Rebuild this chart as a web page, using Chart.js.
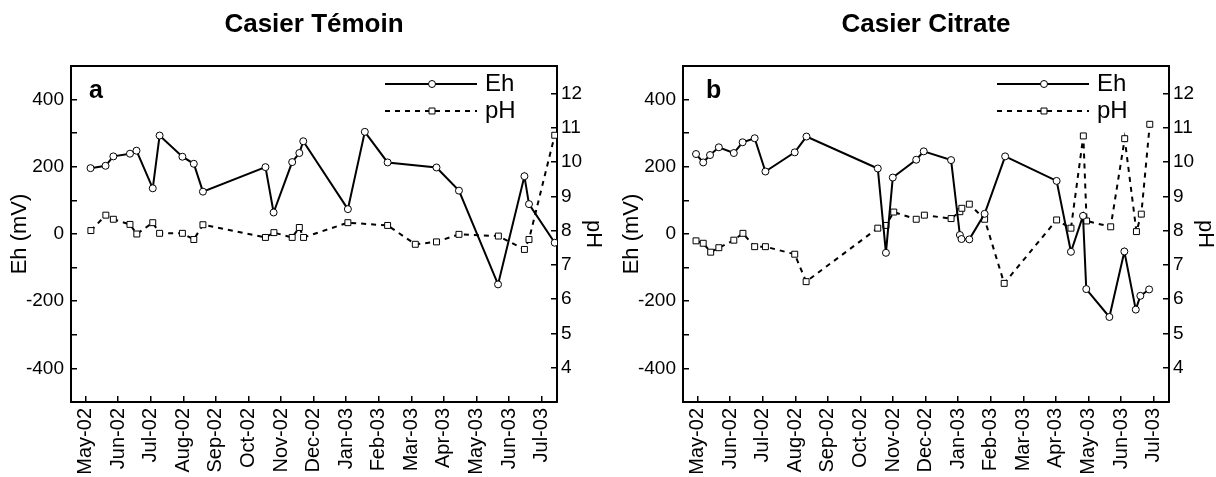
<!DOCTYPE html>
<html>
<head>
<meta charset="utf-8">
<script src="https://cdn.jsdelivr.net/npm/chart.js@4/dist/chart.umd.min.js"></script>
<style>
  html, body { margin: 0; padding: 0; background: #fff; overflow: hidden; }
  .panel { position: absolute; top: 0; width: 608px; height: 477px; }
</style>
</head>
<body>
<div class="panel" style="left:0"><canvas id="chartTemoin" width="608" height="477"></canvas></div>
<div class="panel" style="left:612px"><canvas id="chartCitrate" width="608" height="477"></canvas></div>
<script>
// month ticks, x = months since May-02
const months = ['May-02', 'Jun-02', 'Jul-02', 'Aug-02', 'Sep-02', 'Oct-02', 'Nov-02', 'Dec-02',
  'Jan-03', 'Feb-03', 'Mar-03', 'Apr-03', 'May-03', 'Jun-03', 'Jul-03'];

// Casier Témoin
const temoinEhX = [0.15, 0.61, 0.85, 1.36, 1.56, 2.06, 2.27, 2.97, 3.32, 3.6, 5.52, 5.77, 6.34, 6.56, 6.68,
  8.05, 8.57, 9.27, 10.77, 11.46, 12.66, 13.47, 13.61, 14.4];
const temoinEh = [196, 203, 231, 239, 248, 136, 293, 230, 209, 126, 199, 64, 214, 241, 276,
  74, 304, 213, 198, 129, -150, 172, 89, -26];
const temoinPhX = [0.16, 0.62, 0.85, 1.36, 1.57, 2.06, 2.27, 2.97, 3.32, 3.6, 5.52, 5.78, 6.34, 6.56, 6.69,
  8.05, 9.27, 10.12, 10.77, 11.46, 12.67, 13.47, 13.61, 14.4];
const temoinPh = [8.0, 8.45, 8.33, 8.18, 7.9, 8.23, 7.92, 7.92, 7.74, 8.17, 7.8, 7.94, 7.8, 8.09, 7.8,
  8.23, 8.15, 7.6, 7.67, 7.89, 7.84, 7.45, 7.74, 10.78];

// Casier Citrate
const citrateEhX = [-0.05, 0.17, 0.38, 0.65, 1.11, 1.38, 1.75, 2.08, 2.98, 3.34, 5.53, 5.78, 5.99, 6.71, 6.94,
  7.78, 8.05, 8.1, 8.34, 8.81, 9.44, 11.02, 11.46, 11.83, 11.93, 12.64, 13.1, 13.45, 13.59, 13.86];
const citrateEh = [238, 213, 235, 258, 241, 273, 285, 186, 243, 290, 195, -56, 168, 221, 246,
  220, -3, -15, -16, 60, 231, 158, -53, 54, -164, -247, -52, -225, -184, -165];
const citratePhX = [-0.05, 0.17, 0.4, 0.65, 1.11, 1.39, 1.75, 2.08, 2.98, 3.33, 5.53, 5.78, 6.02, 6.71, 6.96,
  7.78, 8.05, 8.11, 8.34, 8.81, 9.41, 11.02, 11.46, 11.84, 11.94, 12.68, 13.11, 13.47, 13.62, 13.88];
const citratePh = [7.7, 7.63, 7.37, 7.5, 7.72, 7.92, 7.53, 7.53, 7.31, 6.51, 8.07, 8.15, 8.54, 8.33, 8.45,
  8.35, 8.55, 8.65, 8.77, 8.33, 6.46, 8.31, 8.07, 10.76, 8.28, 8.11, 10.68, 7.97, 8.48, 11.1];

const FONT = '"Liberation Sans", Arial, sans-serif';
const X_MIN = -0.45, X_MAX = 14.47;

function zip(xs, ys) {
  return xs.map((x, i) => ({ x: x, y: ys[i] }));
}

// title, panel letter and the line+marker legend
const panelText = {
  id: 'panelText',
  afterDraw(chart, args, opts) {
    const { ctx, chartArea: a } = chart;
    ctx.save();
    ctx.fillStyle = '#000';
    ctx.font = 'bold 26px ' + FONT;
    ctx.textAlign = 'center';
    ctx.textBaseline = 'middle';
    ctx.fillText(opts.title, (a.left + a.right) / 2, 25);

    ctx.font = 'bold 25px ' + FONT;
    ctx.textAlign = 'left';
    ctx.textBaseline = 'alphabetic';
    ctx.fillText(opts.letter, a.left + opts.letterDx, a.top + 32);

    ctx.font = '24px ' + FONT;
    ctx.textBaseline = 'middle';
    chart.data.datasets.forEach((ds, i) => {
      const y = a.top + 18 + i * 27;
      ctx.strokeStyle = '#000';
      ctx.lineWidth = ds.borderWidth;
      ctx.setLineDash(ds.borderDash || []);
      ctx.beginPath();
      ctx.moveTo(a.right - 172, y);
      ctx.lineTo(a.right - 80, y);
      ctx.stroke();
      ctx.setLineDash([]);
      ctx.fillStyle = '#fff';
      ctx.lineWidth = ds.pointBorderWidth;
      Chart.helpers.drawPoint(ctx, {
        pointStyle: ds.pointStyle, radius: ds.pointRadius, rotation: 0, borderWidth: ds.pointBorderWidth
      }, a.right - 125, y);
      ctx.fillStyle = '#000';
      ctx.fillText(ds.label, a.right - 72, y);
    });
    ctx.restore();
  }
};

function makeChart(id, title, letter, letterDx, ehX, eh, phX, ph) {
  const tickFont = { family: FONT, size: 20 };
  new Chart(document.getElementById(id), {
    type: 'line',
    data: {
      datasets: [
        {
          label: 'Eh', data: zip(ehX, eh), yAxisID: 'y',
          borderColor: '#000', borderWidth: 2,
          pointStyle: 'circle', pointRadius: 3.5, pointBorderWidth: 1,
          pointBackgroundColor: '#fff', pointBorderColor: '#000'
        },
        {
          label: 'pH', data: zip(phX, ph), yAxisID: 'y1',
          borderColor: '#000', borderWidth: 2, borderDash: [5, 5],
          pointStyle: 'rect', pointRadius: 4.2, pointBorderWidth: 1,
          pointBackgroundColor: '#fff', pointBorderColor: '#000'
        }
      ]
    },
    options: {
      responsive: false,
      animation: false,
      layout: { padding: { top: 66, left: 0, right: 0, bottom: 0 } },
      plugins: {
        legend: { display: false },
        tooltip: { enabled: false },
        panelText: { title: title, letter: letter, letterDx: letterDx }
      },
      scales: {
        x: {
          type: 'linear', position: 'bottom', min: X_MIN, max: X_MAX,
          afterFit: s => { s.height = 75; },
          grid: { drawOnChartArea: false, tickLength: -6, color: '#000', lineWidth: 1.5 },
          border: { color: '#000', width: 2 },
          ticks: {
            stepSize: 1, includeBounds: false, autoSkip: false,
            minRotation: 90, maxRotation: 90, padding: 12,
            color: '#000', font: tickFont,
            callback: v => (Number.isInteger(v) && months[v]) ? months[v] : ''
          }
        },
        xTop: {
          type: 'linear', position: 'top', min: X_MIN, max: X_MAX,
          afterFit: s => { s.height = 0; },
          grid: { drawOnChartArea: false, drawTicks: false },
          border: { color: '#000', width: 2 },
          ticks: { display: false }
        },
        y: {
          type: 'linear', position: 'left', min: -500, max: 500,
          afterFit: s => { s.width = 71; },
          grid: { drawOnChartArea: false, tickLength: -6, color: '#000', lineWidth: 1.5 },
          border: { color: '#000', width: 2 },
          title: { display: true, text: 'Eh (mV)', color: '#000', font: { family: FONT, size: 22 }, padding: { top: 7, bottom: 0 } },
          ticks: {
            stepSize: 100, padding: 13, color: '#000', font: { family: FONT, size: 19 },
            callback: v => (v % 200 === 0 && Math.abs(v) <= 400) ? String(v) : ''
          }
        },
        y1: {
          type: 'linear', position: 'right', min: 3, max: 12.8,
          afterFit: s => { s.width = 51; },
          grid: { drawOnChartArea: false, tickLength: -6, color: '#000', lineWidth: 1.5 },
          border: { color: '#000', width: 2 },
          title: { display: true, text: 'pH', color: '#000', font: { family: FONT, size: 22 }, padding: { top: 2, bottom: 0 } },
          ticks: {
            stepSize: 1, includeBounds: false, padding: 10, color: '#000', font: { family: FONT, size: 19 },
            callback: v => (v >= 4 && v <= 12) ? String(v) : ''
          }
        }
      }
    },
    plugins: [panelText]
  });
}

makeChart('chartTemoin', 'Casier Témoin', 'a', 18, temoinEhX, temoinEh, temoinPhX, temoinPh);
makeChart('chartCitrate', 'Casier Citrate', 'b', 23, citrateEhX, citrateEh, citratePhX, citratePh);
</script>
</body>
</html>
